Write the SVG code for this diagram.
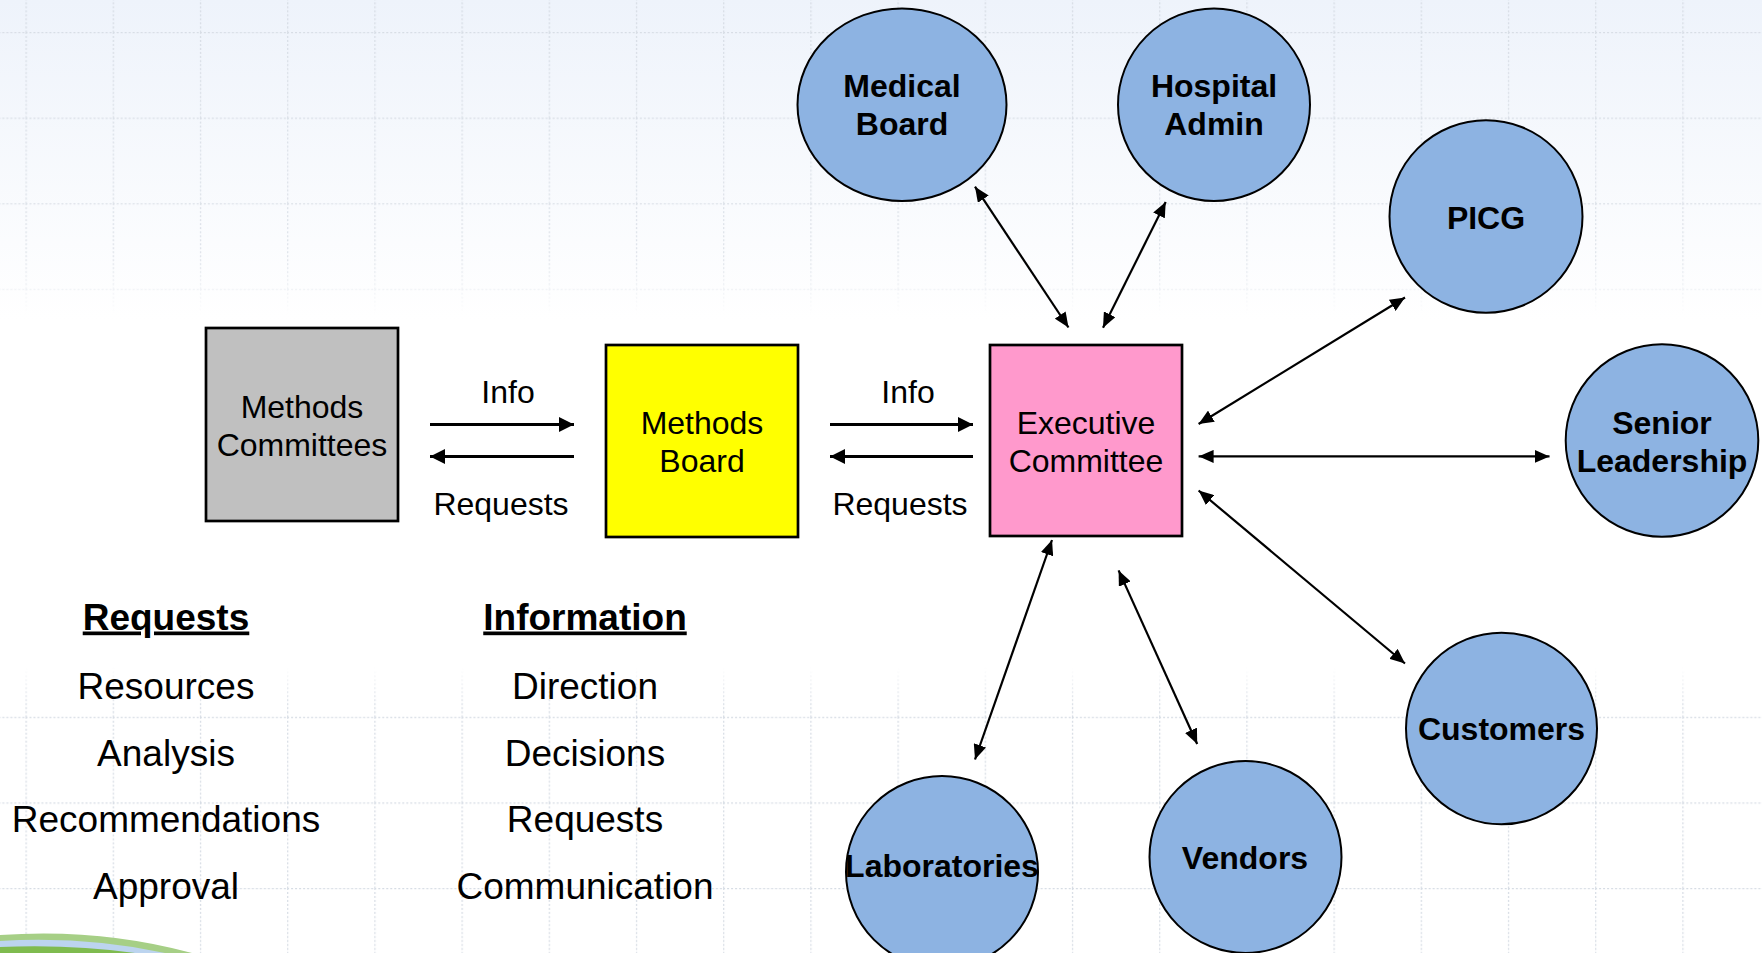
<svg xmlns="http://www.w3.org/2000/svg" width="1762" height="953" viewBox="0 0 1762 953">
<style>
.box{stroke:#000;stroke-width:2.7}
.circ{fill:#8db3e2;stroke:#000;stroke-width:2}
.t{font-family:"Liberation Sans",Arial,sans-serif;fill:#000;text-anchor:middle}
.bt{font-size:32px}
.ct{font-size:32px;font-weight:bold}
.lg{font-size:37px}
.lh{font-size:37px;font-weight:bold;text-decoration:underline}
.ba{stroke:#000;stroke-width:3;fill:none}
.ra{stroke:#000;stroke-width:2.2;fill:none}
</style>
<defs>
<linearGradient id="bg" x1="0" y1="0" x2="0" y2="1" gradientUnits="objectBoundingBox">
<stop offset="0" stop-color="#eef3fb"/>
<stop offset="1" stop-color="#ffffff"/>
</linearGradient>
<linearGradient id="gm" x1="0" y1="0" x2="0" y2="953" gradientUnits="userSpaceOnUse">
<stop offset="0" stop-color="#fff" stop-opacity="1"/>
<stop offset="0.27" stop-color="#fff" stop-opacity="0.8"/>
<stop offset="0.33" stop-color="#fff" stop-opacity="0"/>
<stop offset="0.70" stop-color="#fff" stop-opacity="0"/>
<stop offset="0.74" stop-color="#fff" stop-opacity="1"/>
<stop offset="1" stop-color="#fff" stop-opacity="1"/>
</linearGradient>
<mask id="gridmask"><rect x="0" y="0" width="1762" height="953" fill="url(#gm)"/></mask>
<pattern id="grid" patternUnits="userSpaceOnUse" x="25.5" y="32" width="87.2" height="85.6">
<path d="M0.5,0 V85.6 M0,0.5 H87.2" stroke="#d6dce4" stroke-width="1.5" stroke-dasharray="2 2" fill="none"/>
</pattern>
<marker id="ah" viewBox="0 0 15 15" refX="15" refY="7.5" markerWidth="15" markerHeight="15" markerUnits="userSpaceOnUse" orient="auto-start-reverse"><path d="M0,0 L15,7.5 L0,15 z" fill="#000"/></marker>
<marker id="ah2" viewBox="0 0 15 13" refX="15" refY="6.5" markerWidth="15" markerHeight="13" markerUnits="userSpaceOnUse" orient="auto-start-reverse"><path d="M0,0 L15,6.5 L0,13 z" fill="#000"/></marker>
</defs>
<g id="background">
<rect x="0" y="0" width="1762" height="953" fill="#fff"/>
<rect x="0" y="0" width="1762" height="320" fill="url(#bg)"/>
<rect x="0" y="0" width="1762" height="953" fill="url(#grid)" mask="url(#gridmask)"/>
<path d="M0,935 Q100,928 192,953 L0,953 Z" fill="#a6cf86"/>
<path d="M0,941 Q85,936 165,953 L0,953 Z" fill="#bcd4ef"/>
<path d="M0,947 Q70,944 135,953 L0,953 Z" fill="#7fbb4f"/>
</g>
<g id="connectors">
<line class="ba" x1="430" y1="424.5" x2="574" y2="424.5" marker-end="url(#ah)"/>
<line class="ba" x1="574" y1="456.5" x2="430" y2="456.5" marker-end="url(#ah)"/>
<line class="ba" x1="830" y1="424.5" x2="973" y2="424.5" marker-end="url(#ah)"/>
<line class="ba" x1="973" y1="456.5" x2="830" y2="456.5" marker-end="url(#ah)"/>
<line class="ra" x1="975" y1="186.7" x2="1068.5" y2="327.5" marker-start="url(#ah2)" marker-end="url(#ah2)"/>
<line class="ra" x1="1165.7" y1="202" x2="1103" y2="327.7" marker-start="url(#ah2)" marker-end="url(#ah2)"/>
<line class="ra" x1="1405" y1="297.5" x2="1198.6" y2="424" marker-start="url(#ah2)" marker-end="url(#ah2)"/>
<line class="ra" x1="1198.6" y1="456.4" x2="1549.5" y2="456.4" marker-start="url(#ah2)" marker-end="url(#ah2)"/>
<line class="ra" x1="1198.6" y1="490.5" x2="1405" y2="663.5" marker-start="url(#ah2)" marker-end="url(#ah2)"/>
<line class="ra" x1="1118.6" y1="570.4" x2="1197.2" y2="744" marker-start="url(#ah2)" marker-end="url(#ah2)"/>
<line class="ra" x1="1052" y1="540" x2="975" y2="759.5" marker-start="url(#ah2)" marker-end="url(#ah2)"/>
<text class="t bt" x="508" y="403">Info</text>
<text class="t bt" x="501" y="515">Requests</text>
<text class="t bt" x="908" y="403">Info</text>
<text class="t bt" x="900" y="515">Requests</text>
</g>
<g id="methods-committees">
<rect class="box" x="206" y="328" width="192" height="193" fill="#c0c0c0"/>
<text class="t bt" x="302" y="418">Methods</text>
<text class="t bt" x="302" y="456">Committees</text>
</g>
<g id="methods-board">
<rect class="box" x="606" y="345" width="192" height="192" fill="#ffff00"/>
<text class="t bt" x="702" y="434">Methods</text>
<text class="t bt" x="702" y="472">Board</text>
</g>
<g id="executive-committee">
<rect class="box" x="990" y="345" width="192" height="191" fill="#ff99cc"/>
<text class="t bt" x="1086" y="434">Executive</text>
<text class="t bt" x="1086" y="472">Committee</text>
</g>
<g id="medical-board">
<ellipse class="circ" cx="902" cy="104.7" rx="104.5" ry="96.3"/>
<text class="t ct" x="902" y="97">Medical</text>
<text class="t ct" x="902" y="135">Board</text>
</g>
<g id="hospital-admin">
<ellipse class="circ" cx="1214" cy="104.7" rx="96" ry="96.3"/>
<text class="t ct" x="1214" y="97">Hospital</text>
<text class="t ct" x="1214" y="135">Admin</text>
</g>
<g id="picg">
<ellipse class="circ" cx="1486" cy="216.5" rx="96.5" ry="96.3"/>
<text class="t ct" x="1486" y="228.5">PICG</text>
</g>
<g id="senior-leadership">
<ellipse class="circ" cx="1662" cy="440.5" rx="96.3" ry="96.2"/>
<text class="t ct" x="1662" y="433.5">Senior</text>
<text class="t ct" x="1662" y="472">Leadership</text>
</g>
<g id="customers">
<ellipse class="circ" cx="1501.5" cy="728.5" rx="95.5" ry="95.8"/>
<text class="t ct" x="1501.5" y="740">Customers</text>
</g>
<g id="vendors">
<ellipse class="circ" cx="1245.5" cy="857" rx="96" ry="96"/>
<text class="t ct" x="1245" y="868.5">Vendors</text>
</g>
<g id="laboratories">
<ellipse class="circ" cx="942" cy="872" rx="96" ry="96"/>
<text class="t ct" x="942" y="877">Laboratories</text>
</g>
<g id="legend-requests">
<text class="t lh" x="166" y="629.5">Requests</text>
<text class="t lg" x="166" y="698.5">Resources</text>
<text class="t lg" x="166" y="765.5">Analysis</text>
<text class="t lg" x="166" y="832">Recommendations</text>
<text class="t lg" x="166" y="899">Approval</text>
</g>
<g id="legend-information">
<text class="t lh" x="585" y="629.5">Information</text>
<text class="t lg" x="585" y="698.5">Direction</text>
<text class="t lg" x="585" y="765.5">Decisions</text>
<text class="t lg" x="585" y="832">Requests</text>
<text class="t lg" x="585" y="899">Communication</text>
</g>
</svg>
